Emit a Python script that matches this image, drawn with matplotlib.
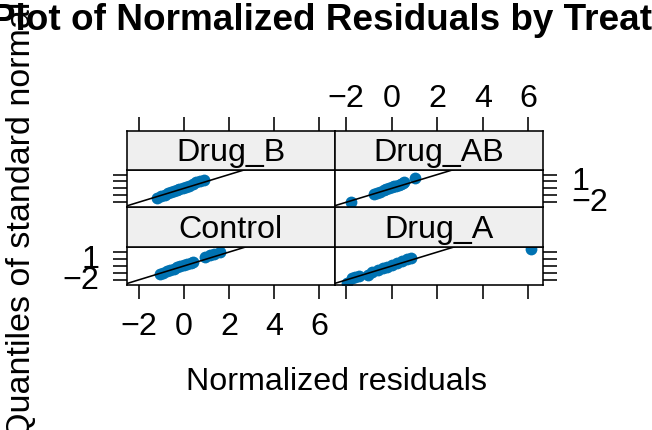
import matplotlib
matplotlib.use("Agg")
import matplotlib.pyplot as plt
import numpy as np
from statistics import NormalDist

plt.rcParams['font.family'] = ['Liberation Sans', 'DejaVu Sans']

# ---------------------------------------------------
# Data: normalized residuals by treatment group
# ---------------------------------------------------
groups = ["Control", "Drug_A", "Drug_B", "Drug_AB"]
res_control = [-1.05, -0.9, -0.75, -0.6, -0.45, -0.3, -0.15, 0.0, 0.15, 0.3, 0.4, 0.95, 1.15, 1.35, 1.6]
res_drug_a = [-1.95, -1.75, -1.6, -1.45, -1.05, -0.85, -0.6, -0.4, -0.2, 0.0, 0.25, 0.45, 0.65, 0.85, 6.1]
res_drug_b = [-1.2, -1.0, -0.85, -0.7, -0.55, -0.45, -0.3, -0.2, -0.05, 0.1, 0.25, 0.4, 0.55, 0.7, 0.9]
res_drug_ab = [-1.8, -0.8, -0.65, -0.5, -0.35, -0.25, -0.1, 0.0, 0.1, 0.2, 0.3, 0.4, 0.5, 0.55, 1.0]
x_ticks = [-2, 0, 2, 4, 6]
y_ticks = [-2, -1, 0, 1, 2]
y_ticklabels = ["\u22122", "", "", "1", ""]

residuals = {"Control": res_control, "Drug_A": res_drug_a,
             "Drug_B": res_drug_b, "Drug_AB": res_drug_ab}

# normal quantiles computed on the pooled residuals (as qqnorm.lme does)
all_res = np.concatenate([residuals[g] for g in groups])
n = len(all_res)
ranks = np.argsort(np.argsort(all_res))
quant = np.array([NormalDist().inv_cdf((r + 1 - 0.5) / n) for r in ranks])
qq = {}
start = 0
for g in groups:
    k = len(residuals[g])
    qq[g] = quant[start:start + k]
    start += k

def padded(lo, hi, f=0.07):
    d = (hi - lo) * f
    return lo - d, hi + d

xlim = padded(all_res.min(), all_res.max())
ylim = padded(quant.min(), quant.max())

# ---------------------------------------------------
# Layout (pixel coordinates of the lattice panels)
# ---------------------------------------------------
W, H = 652, 431
fig = plt.figure(figsize=(W / 100, H / 100), dpi=100)

def px_axes(x0, y0, x1, y1, **kw):
    return fig.add_axes([x0 / W, 1 - y1 / H, (x1 - x0) / W, (y1 - y0) / H], **kw)

cols = [(127, 334.5), (334.5, 543.5)]
rows = {"top": {"strip": (131.7, 170.5), "panel": (170.5, 208.3)},
        "bottom": {"strip": (208.3, 248), "panel": (248, 286)}}
layout = {"Drug_B": ("top", 0), "Drug_AB": ("top", 1),
          "Control": ("bottom", 0), "Drug_A": ("bottom", 1)}

blue = "#0072B2"
lw = 1.15
fs = 23.2
strip_bg = "#EFEFEF"

for g in groups:
    row, col = layout[g]
    x0, x1 = cols[col]
    sy0, sy1 = rows[row]["strip"]
    py0, py1 = rows[row]["panel"]

    ax = px_axes(x0, py0, x1, py1)
    st = px_axes(x0, sy0, x1, sy1, sharex=ax)

    ax.plot(residuals[g], qq[g], 'o', color=blue, markersize=8.5, markeredgewidth=0)
    ax.axline((0, 0), slope=1, color='black', linewidth=lw)
    ax.set_xlim(xlim)
    ax.set_ylim(ylim)

    for a in (ax, st):
        for sp in a.spines.values():
            sp.set_linewidth(lw)

    # strip
    st.set_facecolor(strip_bg)
    st.set_yticks([])
    st.text(0.5, 0.45, g, transform=st.transAxes, ha='center', va='center', fontsize=fs)

    # x axis: bottom ticks for bottom row, top ticks (on strip) for top row
    ax.set_xticks(x_ticks)
    ax.set_yticks(y_ticks)
    ax.tick_params(axis='both', direction='out', length=10, width=lw, labelsize=fs)
    st.tick_params(axis='x', direction='out', length=10, width=lw, labelsize=fs, pad=3)
    if row == "bottom":
        ax.tick_params(axis='x', bottom=True, labelbottom=(col == 0), top=False, labeltop=False, pad=9)
        st.tick_params(axis='x', bottom=False, labelbottom=False, top=False, labeltop=False)
    else:
        ax.tick_params(axis='x', bottom=False, labelbottom=False, top=False, labeltop=False)
        st.tick_params(axis='x', bottom=False, labelbottom=False, top=True, labeltop=(col == 1))

    # y axis: left side for left column, right side for right column
    ax.set_yticklabels(y_ticklabels)
    if col == 0:
        ax.tick_params(axis='y', left=True, labelleft=(row == "bottom"), right=False, labelright=False, pad=10)
    else:
        ax.tick_params(axis='y', left=False, labelleft=False, right=True, labelright=(row == "top"), pad=10)
    for lab in ax.get_yticklabels():
        lab.set_verticalalignment('center')

# titles
fig.text(0.5, 1 - 30 / H, "Q-Q Plot of Normalized Residuals by Treatment",
         ha='center', va='baseline', fontsize=26.6, fontweight='bold')
fig.text(336 / W, 1 - 382 / H, "Normalized residuals", ha='center', va='center', fontsize=fs)
fig.text(22 / W, 1 - 220 / H, "Quantiles of standard normal", ha='center', va='center',
         rotation=90, fontsize=24.5)

fig.savefig("out.png", dpi=100)
